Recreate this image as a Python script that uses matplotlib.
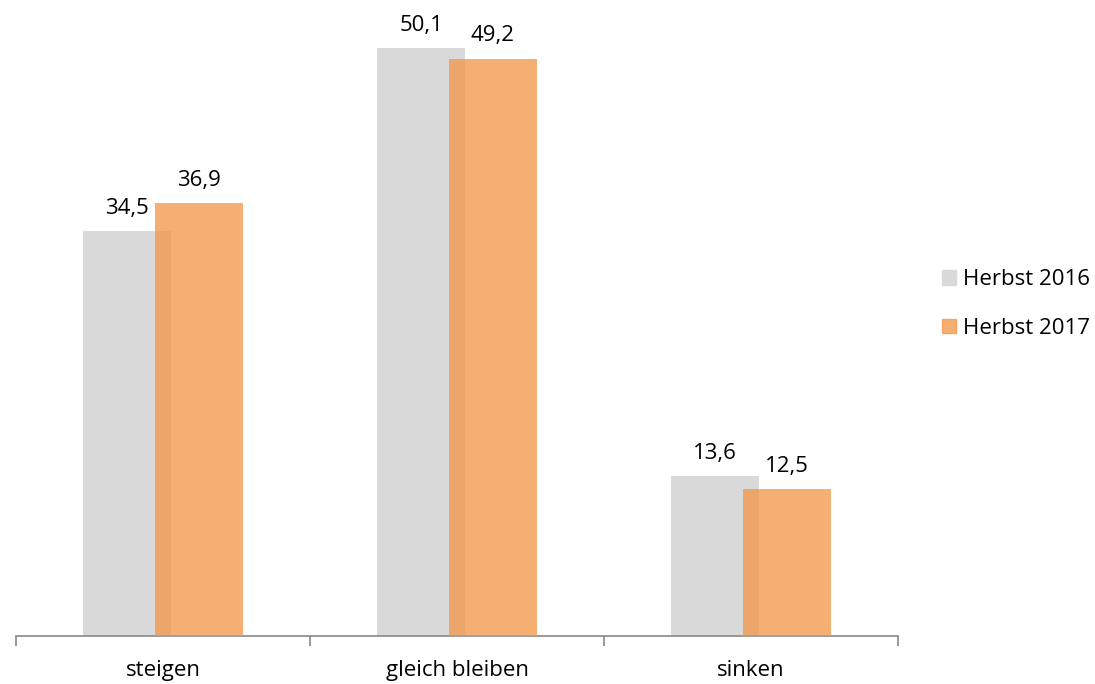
import numpy as np
import matplotlib.pyplot as plt
from matplotlib.patches import Patch

categories = ['steigen', 'gleich bleiben', 'sinken']
series = ['Herbst 2016', 'Herbst 2017']
values_2016 = [34.5, 50.1, 13.6]
values_2017 = [36.9, 49.2, 12.5]

grey = '#D9D9D9'
orange = '#F49442'

plt.rcParams['font.family'] = ['Open Sans', 'DejaVu Sans']

fig = plt.figure(figsize=(10.95, 6.84), dpi=100)
ax = fig.add_axes([16 / 1095, 48 / 684, (898 - 16) / 1095, 636 / 684])

x = np.arange(len(categories))
w = 0.30
off = 0.122

b1 = ax.bar(x - off, values_2016, w, color=grey, zorder=2)
b2 = ax.bar(x + off, values_2017, w, color=orange, alpha=0.74, zorder=3)

def fmt(v):
    return f'{v:.1f}'.replace('.', ',')

for bars, vals in [(b1, values_2016), (b2, values_2017)]:
    for rect, v in zip(bars, vals):
        ax.annotate(fmt(v), (rect.get_x() + rect.get_width() / 2, v),
                    xytext=(0, 9), textcoords='offset points',
                    ha='center', va='bottom', fontsize=16, color='#000000')

ax.set_xlim(-0.5, len(categories) - 0.5)
ax.set_ylim(0, 54.2)

for s in ['top', 'right', 'left']:
    ax.spines[s].set_visible(False)
ax.spines['bottom'].set_color('#898989')
ax.spines['bottom'].set_linewidth(1.2)

ax.set_yticks([])
ax.set_xticks(np.arange(-0.5, len(categories)), minor=False)
ax.set_xticklabels([])
ax.tick_params(axis='x', which='major', length=7, width=1.2, color='#898989', direction='out')
ax.set_xticks(x, minor=True)
ax.set_xticklabels(categories, minor=True, fontsize=16)
ax.tick_params(axis='x', which='minor', length=0, pad=17)

handles = [Patch(color=grey), Patch(color=orange, alpha=0.74)]
fig.legend(handles, series, loc='center left', bbox_to_anchor=(922 / 1095, 1 - 304 / 684),
           frameon=False, fontsize=16, handlelength=0.65, handleheight=0.65,
           handletextpad=0.3, labelspacing=1.25)

fig.savefig('out.png', dpi=100)
